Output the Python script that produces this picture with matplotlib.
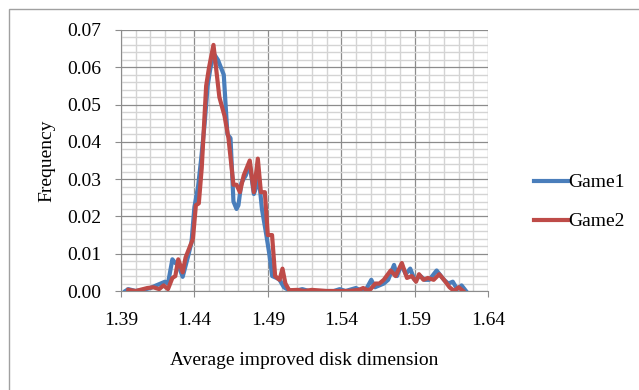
import matplotlib.pyplot as plt
from matplotlib.patches import Rectangle
from matplotlib.ticker import MultipleLocator

# values
game1_x = [1.393, 1.395, 1.397, 1.400, 1.405, 1.410, 1.414, 1.417, 1.420, 1.422,
           1.425, 1.427, 1.429, 1.432, 1.4355, 1.438, 1.440, 1.4425, 1.4445, 1.447,
           1.449, 1.451, 1.4535, 1.456, 1.458, 1.460, 1.4625, 1.4646, 1.4666, 1.4687,
           1.470, 1.472, 1.475, 1.4777, 1.4805, 1.484, 1.486, 1.489, 1.491, 1.493,
           1.496, 1.498, 1.501, 1.504, 1.508, 1.5135, 1.518, 1.525, 1.535, 1.539,
           1.543, 1.550, 1.553, 1.557, 1.5605, 1.563, 1.566, 1.569, 1.572, 1.576,
           1.578, 1.581, 1.584, 1.587, 1.590, 1.594, 1.597, 1.600, 1.605, 1.608,
           1.610, 1.613, 1.616, 1.619, 1.622, 1.625]
game1_y = [0.0, 0.0005, 0.0003, 0.0, 0.0003, 0.0008, 0.0015, 0.002, 0.0025, 0.002,
           0.0085, 0.0075, 0.007, 0.0038, 0.009, 0.013, 0.0225, 0.028, 0.035, 0.045,
           0.055, 0.060, 0.0635, 0.062, 0.060, 0.058, 0.042, 0.041, 0.024, 0.022,
           0.023, 0.029, 0.031, 0.034, 0.026, 0.030, 0.022, 0.015, 0.010, 0.004,
           0.0035, 0.003, 0.001, 0.0003, 0.0, 0.0005, 0.0, 0.0, 0.0, 0.0005,
           0.0, 0.0008, 0.0002, 0.0005, 0.003, 0.001, 0.0015, 0.002, 0.003, 0.007,
           0.004, 0.007, 0.0045, 0.006, 0.003, 0.004, 0.003, 0.003, 0.0055, 0.004,
           0.003, 0.002, 0.0025, 0.0005, 0.0015, 0.0]

game2_x = [1.395, 1.400, 1.405, 1.408, 1.412, 1.416, 1.419, 1.422, 1.425, 1.427,
           1.429, 1.432, 1.434, 1.437, 1.439, 1.441, 1.443, 1.445, 1.448, 1.450,
           1.453, 1.457, 1.4605, 1.4632, 1.4666, 1.4687, 1.471, 1.4736, 1.4777, 1.4805,
           1.4832, 1.4853, 1.488, 1.490, 1.4929, 1.495, 1.498, 1.500, 1.502, 1.5046,
           1.510, 1.515, 1.520, 1.530, 1.545, 1.552, 1.555, 1.558, 1.560, 1.5633,
           1.566, 1.569, 1.5737, 1.577, 1.5813, 1.5848, 1.588, 1.591, 1.593, 1.596,
           1.599, 1.603, 1.6068, 1.610, 1.6138, 1.617, 1.620, 1.623]
game2_y = [0.0003, 0.0, 0.0005, 0.0008, 0.001, 0.0005, 0.0015, 0.0005, 0.0035, 0.004,
           0.0085, 0.005, 0.009, 0.012, 0.014, 0.023, 0.0235, 0.033, 0.055, 0.060,
           0.066, 0.052, 0.047, 0.041, 0.0285, 0.0285, 0.0265, 0.031, 0.035, 0.0265,
           0.0355, 0.0265, 0.0265, 0.015, 0.015, 0.004, 0.003, 0.006, 0.002, 0.0002,
           0.0003, 0.0, 0.0003, 0.0, 0.0, 0.0003, 0.0008, 0.0002, 0.0005, 0.002,
           0.002, 0.003, 0.0055, 0.004, 0.0075, 0.0035, 0.004, 0.0025, 0.0045, 0.003,
           0.0035, 0.003, 0.0045, 0.003, 0.001, 0.0, 0.001, 0.0]

plt.rcParams['font.family'] = ['Liberation Serif', 'DejaVu Serif']

fig = plt.figure(figsize=(6.39, 3.90), dpi=100)
ax = fig.add_axes([121 / 639, 1 - 291 / 390, (488 - 121) / 639, (291 - 30) / 390])

ax.plot(game1_x, game1_y, color='#4A7EBB', linewidth=3.0, label='Game1', zorder=3)
ax.plot(game2_x, game2_y, color='#BE4B48', linewidth=3.0, label='Game2', zorder=4)

ax.set_xlim(1.39, 1.64)
ax.set_ylim(0, 0.07)
ax.xaxis.set_minor_locator(MultipleLocator(0.01))
ax.yaxis.set_minor_locator(MultipleLocator(0.002))
ax.set_xticks([1.39, 1.44, 1.49, 1.54, 1.59, 1.64])
ax.set_xticklabels(['1.39', '1.44', '1.49', '1.54', '1.59', '1.64'])
ax.set_yticks([0.0, 0.01, 0.02, 0.03, 0.04, 0.05, 0.06, 0.07])
ax.set_yticklabels(['0.00', '0.01', '0.02', '0.03', '0.04', '0.05', '0.06', '0.07'])

ax.grid(which='major', color='#8c8c8c', linewidth=0.9)
ax.grid(which='minor', color='#d4d4d4', linewidth=1.0)
ax.set_axisbelow(True)
ax.tick_params(which='major', direction='out', length=4, color='#8c8c8c', labelsize=14)
ax.tick_params(axis='x', pad=11)
ax.tick_params(axis='y', pad=10)
ax.tick_params(which='minor', length=0)
for s in ['top', 'right']:
    ax.spines[s].set_visible(False)
for s in ['left', 'bottom']:
    ax.spines[s].set_color('#8c8c8c')

ax.set_xlabel('Average improved disk dimension', fontsize=14, labelpad=17)
ax.set_ylabel('Frequency', fontsize=14, labelpad=9)

fig.legend(loc='center left', bbox_to_anchor=(516 / 639, 1 - 202 / 390), frameon=False,
           fontsize=14, handlelength=1.8, handletextpad=0.0, labelspacing=1.1)

# outer chart border (only top and left edges fall inside the image)
fig.patches.append(Rectangle((9 / 639, -0.1), 1.2, 1 - 9 / 390 + 0.1, transform=fig.transFigure,
                             fill=False, edgecolor='#a0a0a0', linewidth=1.0))

fig.savefig('out.png', dpi=100)
